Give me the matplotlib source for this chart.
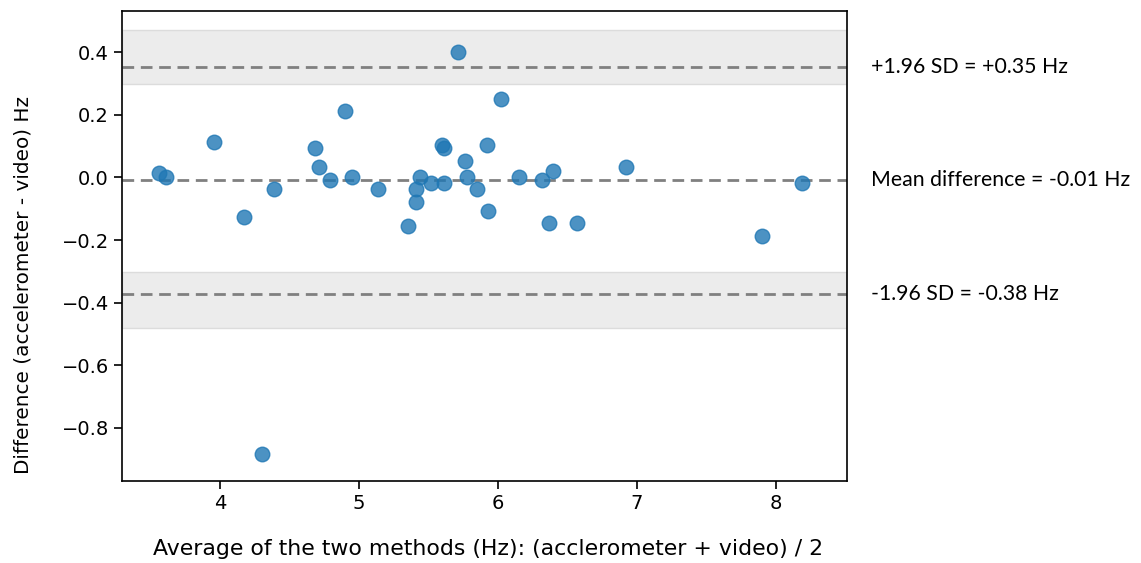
import matplotlib
matplotlib.use("Agg")
import matplotlib.pyplot as plt
import numpy as np

plt.rcParams["font.family"] = ["DejaVu Sans"]

# Bland-Altman values
mean_x = [3.56, 3.61, 3.96, 4.17, 4.30, 4.39, 4.68, 4.71, 4.79, 4.90,
          4.95, 5.14, 5.35, 5.41, 5.41, 5.44, 5.52, 5.60, 5.61, 5.61,
          5.71, 5.76, 5.78, 5.85, 5.92, 5.93, 6.02, 6.15, 6.32, 6.37,
          6.40, 6.57, 6.92, 7.90, 8.19]
diff_y = [0.013, 0.002, 0.113, -0.127, -0.884, -0.037, 0.093, 0.033, -0.009, 0.213,
          0.003, -0.037, -0.156, -0.037, -0.078, 0.003, -0.017, 0.103, 0.093, -0.017,
          0.400, 0.052, 0.003, -0.037, 0.103, -0.106, 0.252, 0.003, -0.007, -0.147,
          0.022, -0.147, 0.033, -0.187, -0.017]

mean_diff = -0.008
upper_loa = 0.352
lower_loa = -0.373
upper_band = (0.298, 0.470)
lower_band = (-0.482, -0.302)
mean_label = "Mean difference = -0.01 Hz"
upper_label = "+1.96 SD = +0.35 Hz"
lower_label = "-1.96 SD = -0.38 Hz"

fig = plt.figure(figsize=(11.41, 5.63), dpi=100)
ax = fig.add_axes([0.107, 0.146, 0.635, 0.834])

for lo, hi in (upper_band, lower_band):
    ax.axhspan(lo, hi, facecolor="#ececec", edgecolor="#dcdcdc", linewidth=1, zorder=0)

for yv in (mean_diff, upper_loa, lower_loa):
    ax.axhline(yv, color="gray", linestyle="--", linewidth=2, dashes=(4.2, 2.4), zorder=1)

ax.scatter(mean_x, diff_y, s=110, color="#1f77b4", alpha=0.8, zorder=3)

ax.set_xlim(3.295, 8.51)
ax.set_ylim(-0.969, 0.531)
ax.set_xticks([4, 5, 6, 7, 8])
ax.set_yticks([-0.8, -0.6, -0.4, -0.2, 0.0, 0.2, 0.4])
ax.tick_params(labelsize=14, length=6, width=1.2)
for sp in ax.spines.values():
    sp.set_linewidth(1.2)

ax.set_xlabel("Average of the two methods (Hz): (acclerometer + video) / 2", fontsize=15.8)
ax.set_ylabel("Difference (accelerometer - video) Hz", fontsize=14.4)
ax.xaxis.set_label_coords(0.5055, -0.124)
ax.yaxis.set_label_coords(-0.124, 0.417)

for yv, txt in ((upper_loa, upper_label), (mean_diff, mean_label), (lower_loa, lower_label)):
    ax.annotate(txt, xy=(1.034, yv), xycoords=("axes fraction", "data"),
                ha="left", va="center", fontsize=15.3, family="Lato", annotation_clip=False)

fig.savefig("out.png", dpi=100)
